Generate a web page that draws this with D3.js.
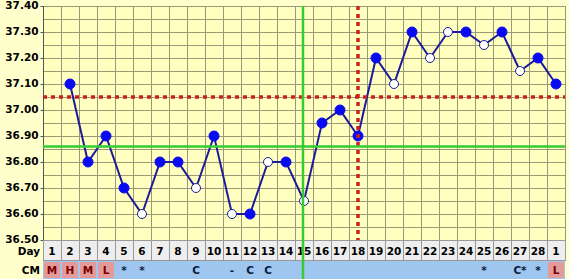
<!DOCTYPE html>
<html>
<head>
<meta charset="utf-8">
<script src="https://cdn.jsdelivr.net/npm/d3@7"></script>
<style>
  html, body { margin: 0; padding: 0; background: #ffffcc; }
  svg { display: block; }
  text { font-family: "DejaVu Sans", sans-serif; font-weight: bold; font-size: 10.5px; fill: #000; }
</style>
</head>
<body>
<div id="chart"></div>
<script>
  // chart data
  var days = d3.range(1, 30);
  var dayLabels = days.map(function (d) { return d === 29 ? "1" : String(d); });
  var tempDays = [2, 3, 4, 5, 6, 7, 8, 9, 10, 11, 12, 13, 14, 15, 16, 17, 18, 19, 20, 21, 22, 23, 24, 25, 26, 27, 28, 29];
  var temps = [37.10, 36.80, 36.90, 36.70, 36.60, 36.80, 36.80, 36.70, 36.90, 36.60, 36.60, 36.80, 36.80, 36.65,
               36.95, 37.00, 36.90, 37.20, 37.10, 37.30, 37.20, 37.30, 37.30, 37.25, 37.30, 37.15, 37.20, 37.10];
  var filled = [1, 1, 1, 1, 0, 1, 1, 0, 1, 0, 1, 0, 1, 0, 1, 1, 1, 1, 0, 1, 0, 0, 1, 0, 1, 0, 1, 1];
  var cm = ["M", "H", "M", "L", "*", "*", "", "", "C", "", "-", "C", "C", "", "", "", "", "", "", "", "", "", "", "", "*", "", "C*", "*", "L"];
  var menstrual = ["M", "H", "L"];
  var tickValues = [36.5, 36.6, 36.7, 36.8, 36.9, 37.0, 37.1, 37.2, 37.3, 37.4];
  var coverline = 37.05;
  var greenLevel = 36.86;
  var ovulationDay = 18;
  var greenDay = 15;

  var W = 569, H = 279;
  var plotLeft = 43, plotRight = 565, plotTop = 6, plotBottom = 240;
  var dayRow = [240, 260], cmRow = [261, 279];

  var svg = d3.select("#chart").append("svg").attr("width", W).attr("height", H);

  var x = d3.scaleBand().domain(days).range([plotLeft, plotRight]);
  var y = d3.scaleLinear().domain([36.5, 37.4]).range([plotBottom, plotTop]);
  var cx = function (d) { return x(d) + x.bandwidth() / 2; };

  // plot background
  svg.append("rect").attr("x", plotLeft).attr("y", plotTop).attr("width", plotRight - plotLeft).attr("height", plotBottom - plotTop)
    .attr("fill", "#ffffc0");

  // grid
  var grid = svg.append("g").attr("stroke", "#999978").attr("stroke-width", 1).attr("shape-rendering", "crispEdges");
  grid.selectAll("line.h").data(d3.range(0, 19).map(function (i) { return 36.5 + i * 0.05; }))
    .enter().append("line")
    .attr("x1", plotLeft).attr("x2", plotRight)
    .attr("y1", function (d) { return Math.round(y(d)) + 0.5; })
    .attr("y2", function (d) { return Math.round(y(d)) + 0.5; });
  grid.selectAll("line.v").data(days.concat([30]))
    .enter().append("line")
    .attr("x1", function (d) { return Math.round(d === 30 ? plotRight : x(d)) + 0.5; })
    .attr("x2", function (d) { return Math.round(d === 30 ? plotRight : x(d)) + 0.5; })
    .attr("y1", plotTop).attr("y2", plotBottom);

  // left axis
  var yAxis = d3.axisLeft(y).tickValues(tickValues).tickFormat(d3.format(".2f")).tickSize(3).tickPadding(2);
  var ax = svg.append("g").attr("transform", "translate(" + (plotLeft + 0.5) + ",0)").call(yAxis);
  ax.select(".domain").attr("stroke", "#555").attr("d", "M0," + plotTop + "V" + plotBottom);
  ax.selectAll(".tick line").attr("stroke", "#555");
  ax.selectAll(".tick text").attr("font-family", "DejaVu Sans").attr("font-weight", "bold")
    .attr("font-size", "10.5px").attr("fill", "#000").attr("dy", "0.2em");

  // day row
  svg.append("rect").attr("x", plotLeft).attr("y", dayRow[0]).attr("width", plotRight - plotLeft).attr("height", dayRow[1] - dayRow[0])
    .attr("fill", "#eeeeee").attr("stroke", "#999").attr("shape-rendering", "crispEdges");
  svg.append("g").attr("stroke", "#999").attr("shape-rendering", "crispEdges")
    .selectAll("line").data(days.slice(1)).enter().append("line")
    .attr("x1", function (d) { return Math.round(x(d)) + 0.5; })
    .attr("x2", function (d) { return Math.round(x(d)) + 0.5; })
    .attr("y1", dayRow[0]).attr("y2", dayRow[1]);
  svg.append("g").selectAll("text").data(days).enter().append("text")
    .attr("x", cx).attr("y", (dayRow[0] + dayRow[1]) / 2 + 4.5)
    .attr("text-anchor", "middle")
    .text(function (d, i) { return dayLabels[i]; });
  svg.append("text").attr("x", 40).attr("y", (dayRow[0] + dayRow[1]) / 2 + 4.5).attr("text-anchor", "end").text("Day");

  // CM row
  svg.append("rect").attr("x", plotLeft).attr("y", cmRow[0]).attr("width", plotRight - plotLeft).attr("height", cmRow[1] - cmRow[0])
    .attr("fill", "#9fc6ee");
  svg.append("g").selectAll("rect").data(days.filter(function (d, i) { return menstrual.indexOf(cm[i]) >= 0; }))
    .enter().append("rect")
    .attr("x", function (d) { return x(d) + 1; }).attr("y", cmRow[0] + 1)
    .attr("width", x.bandwidth() - 2).attr("height", cmRow[1] - cmRow[0] - 2)
    .attr("fill", "#e59a9a");
  svg.append("g").selectAll("text").data(days).enter().append("text")
    .attr("x", cx).attr("y", (cmRow[0] + cmRow[1]) / 2 + 4)
    .attr("text-anchor", "middle")
    .style("fill", function (d, i) { return menstrual.indexOf(cm[i]) >= 0 ? "#7a0000" : "#0a1a40"; })
    .text(function (d, i) { return cm[i]; });
  svg.append("text").attr("x", 40).attr("y", (cmRow[0] + cmRow[1]) / 2 + 4).attr("text-anchor", "end").text("CM");

  // temperature line
  var pts = tempDays.map(function (d, i) { return { day: d, t: temps[i], f: filled[i] }; });
  svg.append("path").datum(pts)
    .attr("fill", "none").attr("stroke", "#1c1c99").attr("stroke-width", 2)
    .attr("d", d3.line().x(function (d) { return cx(d.day); }).y(function (d) { return y(d.t); }));
  svg.append("g").selectAll("circle").data(pts).enter().append("circle")
    .attr("cx", function (d) { return cx(d.day); })
    .attr("cy", function (d) { return y(d.t); })
    .attr("r", function (d) { return d.f ? 5 : 4.5; })
    .attr("fill", function (d) { return d.f ? "#0a0af0" : "#ffffff"; })
    .attr("stroke", function (d) { return d.f ? "#0a0af0" : "#1c1c99"; })
    .attr("stroke-width", 1);

  // reference lines
  svg.append("line").attr("x1", plotLeft).attr("x2", plotRight).attr("y1", y(coverline)).attr("y2", y(coverline))
    .attr("stroke", "#cc2020").attr("stroke-width", 3.5).attr("stroke-dasharray", "4,4");
  svg.append("line").attr("x1", cx(ovulationDay)).attr("x2", cx(ovulationDay)).attr("y1", plotTop).attr("y2", plotBottom)
    .attr("stroke", "#cc2020").attr("stroke-width", 3.5).attr("stroke-dasharray", "4,4");
  svg.append("line").attr("x1", plotLeft).attr("x2", plotRight).attr("y1", y(greenLevel)).attr("y2", y(greenLevel))
    .attr("stroke", "#33cc33").attr("stroke-width", 2.5);
  svg.append("line").attr("x1", cx(greenDay) - 1).attr("x2", cx(greenDay) - 1).attr("y1", plotTop).attr("y2", H)
    .attr("stroke", "#33cc33").attr("stroke-width", 2.5);
</script>
</body>
</html>
